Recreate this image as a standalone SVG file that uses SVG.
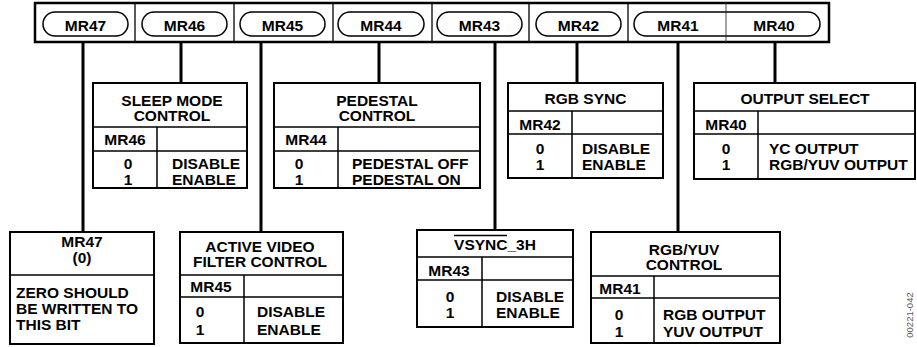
<svg xmlns="http://www.w3.org/2000/svg" width="917" height="347" viewBox="0 0 917 347">
<style>
.t{font-family:"Liberation Sans",Arial,Helvetica,sans-serif;font-weight:bold;font-size:15.5px;fill:#000}
.c{text-anchor:middle}
.box{fill:#fff;stroke:#000;stroke-width:2}
.dv{stroke:#000;stroke-width:1.5;fill:none}
.conn{stroke:#000;stroke-width:3;fill:none}
.pill{fill:#fff;stroke:#000;stroke-width:1.5}
.bar{fill:#fff;stroke:#000;stroke-width:2.5}
.bd{stroke:#000;stroke-width:1.3}
.tag{font-family:"Liberation Sans",Arial,sans-serif;font-size:9.5px;fill:#555;text-anchor:middle}
</style>
<rect width="917" height="347" fill="#fff"/>
<g id="connectors">
<line class="conn" x1="83" y1="42" x2="83" y2="232"/>
<line class="conn" x1="181" y1="42" x2="181" y2="83"/>
<line class="conn" x1="261" y1="42" x2="261" y2="232"/>
<line class="conn" x1="379" y1="42" x2="379" y2="83"/>
<line class="conn" x1="495" y1="42" x2="495" y2="230"/>
<line class="conn" x1="577" y1="42" x2="577" y2="83"/>
<line class="conn" x1="678" y1="42" x2="678" y2="232"/>
<line class="conn" x1="775" y1="42" x2="775" y2="83"/>
</g>
<g id="register-bar">
<rect class="bar" x="35" y="3" width="794" height="39"/>
<line class="bd" x1="135" y1="3" x2="135" y2="42"/>
<line class="bd" x1="234" y1="3" x2="234" y2="42"/>
<line class="bd" x1="333" y1="3" x2="333" y2="42"/>
<line class="bd" x1="432" y1="3" x2="432" y2="42"/>
<line class="bd" x1="529" y1="3" x2="529" y2="42"/>
<line class="bd" x1="628" y1="3" x2="628" y2="42"/>
<rect class="pill" x="43" y="12" width="85" height="24" rx="12"/>
<rect class="pill" x="142" y="12" width="85" height="24" rx="12"/>
<rect class="pill" x="240" y="12" width="85" height="24" rx="12"/>
<rect class="pill" x="338" y="12" width="86" height="24" rx="12"/>
<rect class="pill" x="437" y="12" width="85" height="24" rx="12"/>
<rect class="pill" x="536" y="12" width="85" height="24" rx="12"/>
<rect class="pill" x="634" y="12" width="186" height="24" rx="12"/>
<line x1="726" y1="3" x2="726" y2="42" stroke="#333" stroke-width="0.9"/>
<text class="t c" x="85.5" y="30.5">MR47</text>
<text class="t c" x="184.5" y="30.5">MR46</text>
<text class="t c" x="282.5" y="30.5">MR45</text>
<text class="t c" x="381" y="30.5">MR44</text>
<text class="t c" x="479.5" y="30.5">MR43</text>
<text class="t c" x="578.5" y="30.5">MR42</text>
<text class="t c" x="678" y="30.5">MR41</text>
<text class="t c" x="774" y="30.5">MR40</text>
</g>
<g id="sleep-mode">
<rect class="box" x="93" y="83" width="154" height="105"/>
<line class="dv" x1="93" y1="127" x2="247" y2="127"/>
<line class="dv" x1="93" y1="151" x2="247" y2="151"/>
<line class="dv" x1="157" y1="127" x2="157" y2="188"/>
<text class="t c" x="172" y="105.5">SLEEP MODE</text>
<text class="t c" x="172" y="121">CONTROL</text>
<text class="t c" x="125" y="145">MR46</text>
<text class="t c" x="128" y="168.5">0</text>
<text class="t c" x="128" y="184.5">1</text>
<text class="t" x="172" y="168.5">DISABLE</text>
<text class="t" x="172" y="184.5">ENABLE</text>
</g>
<g id="pedestal">
<rect class="box" x="274" y="83" width="206" height="105"/>
<line class="dv" x1="274" y1="127" x2="480" y2="127"/>
<line class="dv" x1="274" y1="151" x2="480" y2="151"/>
<line class="dv" x1="338" y1="127" x2="338" y2="188"/>
<text class="t c" x="377" y="105.5">PEDESTAL</text>
<text class="t c" x="377" y="121">CONTROL</text>
<text class="t c" x="306" y="145">MR44</text>
<text class="t c" x="299" y="168.5">0</text>
<text class="t c" x="299" y="184.5">1</text>
<text class="t" x="352" y="168.5">PEDESTAL OFF</text>
<text class="t" x="352" y="184.5">PEDESTAL ON</text>
</g>
<g id="rgb-sync">
<rect class="box" x="508" y="83" width="155" height="95"/>
<line class="dv" x1="508" y1="111" x2="663" y2="111"/>
<line class="dv" x1="508" y1="134" x2="663" y2="134"/>
<line class="dv" x1="572" y1="111" x2="572" y2="178"/>
<text class="t c" x="585.5" y="103.5">RGB SYNC</text>
<text class="t c" x="540" y="129.5">MR42</text>
<text class="t c" x="540" y="153.5">0</text>
<text class="t c" x="540" y="169.5">1</text>
<text class="t" x="582" y="153.5">DISABLE</text>
<text class="t" x="582" y="169.5">ENABLE</text>
</g>
<g id="output-select">
<rect class="box" x="694" y="83" width="221" height="96"/>
<line class="dv" x1="694" y1="111" x2="915" y2="111"/>
<line class="dv" x1="694" y1="134" x2="915" y2="134"/>
<line class="dv" x1="758" y1="111" x2="758" y2="179"/>
<text class="t c" x="805" y="103.5">OUTPUT SELECT</text>
<text class="t c" x="726" y="129.5">MR40</text>
<text class="t c" x="726" y="153.5">0</text>
<text class="t c" x="726" y="169.5">1</text>
<text class="t" x="769" y="153.5">YC OUTPUT</text>
<text class="t" x="769" y="169.5">RGB/YUV OUTPUT</text>
</g>
<g id="mr47">
<rect class="box" x="10" y="232" width="144" height="112"/>
<line class="dv" x1="10" y1="275" x2="154" y2="275"/>
<text class="t c" x="82" y="246.5">MR47</text>
<text class="t c" x="82" y="262.5">(0)</text>
<text class="t" x="16" y="297.5">ZERO SHOULD</text>
<text class="t" x="16" y="313.5">BE WRITTEN TO</text>
<text class="t" x="16" y="329.5">THIS BIT</text>
</g>
<g id="active-video">
<rect class="box" x="180" y="232" width="163" height="111"/>
<line class="dv" x1="180" y1="275" x2="343" y2="275"/>
<line class="dv" x1="180" y1="297" x2="343" y2="297"/>
<line class="dv" x1="244" y1="275" x2="244" y2="343"/>
<text class="t c" x="260" y="251.5">ACTIVE VIDEO</text>
<text class="t c" x="260" y="267">FILTER CONTROL</text>
<text class="t c" x="211" y="291.5">MR45</text>
<text class="t c" x="200" y="316.5">0</text>
<text class="t c" x="200" y="334.5">1</text>
<text class="t" x="257" y="316.5">DISABLE</text>
<text class="t" x="257" y="334.5">ENABLE</text>
</g>
<g id="vsync">
<rect class="box" x="417" y="230" width="156" height="97"/>
<line class="dv" x1="417" y1="257" x2="573" y2="257"/>
<line class="dv" x1="417" y1="280" x2="573" y2="280"/>
<line class="dv" x1="482" y1="257" x2="482" y2="327"/>
<text class="t c" x="495" y="249.5">VSYNC_3H</text>
<line x1="454" y1="235.5" x2="507" y2="235.5" stroke="#000" stroke-width="1.5"/>
<text class="t c" x="449" y="275.5">MR43</text>
<text class="t c" x="450" y="301.5">0</text>
<text class="t c" x="450" y="317.5">1</text>
<text class="t" x="496" y="301.5">DISABLE</text>
<text class="t" x="496" y="317.5">ENABLE</text>
</g>
<g id="rgb-yuv">
<rect class="box" x="591" y="232" width="189" height="111"/>
<line class="dv" x1="591" y1="276" x2="780" y2="276"/>
<line class="dv" x1="591" y1="298" x2="780" y2="298"/>
<line class="dv" x1="654" y1="276" x2="654" y2="343"/>
<text class="t c" x="684" y="254.5">RGB/YUV</text>
<text class="t c" x="684" y="270">CONTROL</text>
<text class="t c" x="620" y="293.5">MR41</text>
<text class="t c" x="619" y="319.5">0</text>
<text class="t c" x="619" y="336.5">1</text>
<text class="t" x="663" y="319.5">RGB OUTPUT</text>
<text class="t" x="663" y="336.5">YUV OUTPUT</text>
</g>
<text class="tag" transform="translate(913,315) rotate(-90)">00221-042</text>
</svg>
